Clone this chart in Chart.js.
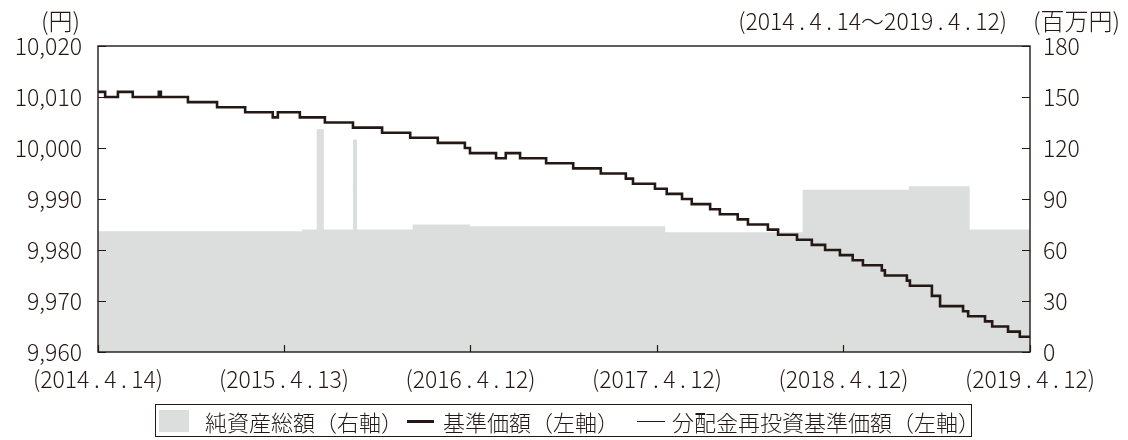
<!DOCTYPE html>
<html><head><meta charset="utf-8">
<script src="https://cdn.jsdelivr.net/npm/chart.js@4.4.1/dist/chart.umd.min.js"></script>
<style>
html,body{margin:0;padding:0;background:#fff;}
#wrap{position:relative;width:1128px;height:440px;font-family:"Noto Sans CJK JP","Noto Sans",sans-serif;font-weight:300;color:#231815;overflow:hidden;}
canvas{position:absolute;left:0;top:0;}
.t{position:absolute;font-size:24px;line-height:26px;white-space:nowrap;}
.p{display:inline-block;margin:0 4.5px;}
.xl{position:absolute;top:365px;font-size:23px;line-height:26px;white-space:nowrap;transform:translateX(-50%);}
#legend{position:absolute;left:155px;top:404px;width:817px;height:33px;border:1px solid #231815;box-sizing:border-box;}
.li{position:absolute;top:3px;font-size:22px;line-height:26px;white-space:nowrap;}
.sw{position:absolute;}
</style></head>
<body>
<div id="wrap">
<canvas id="c" width="1128" height="440"></canvas>
<div class="t" style="right:1048px;top:7px;">(円)</div>
<div class="t" id="range" style="right:121px;top:7px;font-size:23px;"></div>
<div class="t" style="left:1033px;top:7px;">(百万円)</div>
<div id="xlabels"></div>
<div id="legend">
  <div class="sw" style="left:3px;top:5px;width:30px;height:22px;background:#dcdddd;"></div>
  <div class="li" style="left:49px;">純資産総額（右軸）</div>
  <div class="sw" style="left:251px;top:15px;width:27px;height:3px;background:#231815;"></div>
  <div class="li" style="left:287px;">基準価額（左軸）</div>
  <div class="sw" style="left:481px;top:16px;width:28px;height:1px;background:#231815;"></div>
  <div class="li" style="left:516px;">分配金再投資基準価額（左軸）</div>
</div>
</div>
<script>
const startDate = '2014-04-14';
const endDate = '2019-04-12';
const periodText = '(2014.4.14～2019.4.12)';
const xTickDates = ['2014-04-14','2015-04-13','2016-04-12','2017-04-12','2018-04-12','2019-04-12'];
const xTickLabels = ['(2014.4.14)','(2015.4.13)','(2016.4.12)','(2017.4.12)','(2018.4.12)','(2019.4.12)'];
const leftTicks = [9960, 9970, 9980, 9990, 10000, 10010, 10020];
const rightTicks = [0, 30, 60, 90, 120, 150, 180];

// 基準価額 (step changes: date from which the value holds)
const priceDates = ['2014-04-14','2014-04-28','2014-05-23','2014-06-21','2014-08-11','2014-08-15','2014-10-07','2014-12-03',
 '2015-01-27','2015-03-22','2015-04-01','2015-05-14','2015-07-02','2015-08-26','2015-10-22','2015-12-16',
 '2016-02-08','2016-04-01','2016-04-11','2016-06-01','2016-06-20','2016-07-18','2016-09-07','2016-10-30','2016-12-23',
 '2017-02-10','2017-02-24','2017-04-08','2017-05-01','2017-05-31','2017-06-19','2017-07-25','2017-08-13','2017-09-17','2017-10-07','2017-11-15','2017-12-05',
 '2018-01-11','2018-02-09','2018-03-07','2018-04-05','2018-04-30','2018-05-20','2018-06-26','2018-07-02','2018-08-14','2018-08-20','2018-10-02','2018-10-18','2018-12-02','2018-12-12',
 '2019-01-14','2019-01-28','2019-02-28','2019-03-23'];
const priceValues = [10011,10010,10011,10010,10011,10010,10009,10008,
 10007,10006,10007,10006,10005,10004,10003,10002,
 10001,10000,9999,9998,9999,9998,9997,9996,9995,
 9994,9993,9992,9991,9990,9989,9988,9987,9986,9985,9984,9983,
 9982,9981,9980,9979,9978,9977,9976,9975,9974,9973,9971,9969,9968,9967,
 9966,9965,9964,9963];
// 分配金再投資基準価額 (no distributions: same as 基準価額)
const reinvestValues = priceValues.slice();

// 純資産総額 (百万円)
const navDates = ['2014-04-14','2015-05-18','2015-06-16','2015-06-30','2015-08-26','2015-09-03','2015-12-21','2016-04-11','2017-04-28','2018-01-22','2018-08-18','2018-12-15'];
const navValues = [71, 72, 131, 72, 125, 72, 75, 74, 70.5, 95.5, 97.5, 72];

const DAY = 86400000;
const dayOf = d => (Date.parse(d) - Date.parse(startDate)) / DAY;
function stepPoints(dates, values){
  const pts = [];
  dates.forEach((d,i)=>{
    const x = dayOf(d);
    if (i>0) pts.push({x, y: values[i-1]});
    pts.push({x, y: values[i]});
  });
  pts.push({x: dayOf(endDate), y: values[values.length-1]});
  return pts;
}
// render text into an element, widening the periods like the original typeface
function setSpaced(el, text){
  el.textContent = '';
  text.split('.').forEach((part, i)=>{
    if (i>0){ const s=document.createElement('span'); s.className='p'; s.textContent='.'; el.appendChild(s); }
    el.appendChild(document.createTextNode(part));
  });
}
setSpaced(document.getElementById('range'), periodText);

const INK = '#231815';
const FONT = {family:"'Noto Sans CJK JP', 'Noto Sans', sans-serif", size:23, weight:'300'};

const framePlugin = {
  id:'frame',
  afterDatasetsDraw(chart){
    const {ctx, chartArea:a, scales} = chart;
    ctx.save();
    ctx.strokeStyle = INK;
    ctx.lineWidth = 1.2;
    ctx.beginPath();
    scales.y.ticks.forEach(t=>{const p=Math.round(scales.y.getPixelForValue(t.value))+0.5; ctx.moveTo(a.left,p); ctx.lineTo(a.left+8,p);});
    scales.y2.ticks.forEach(t=>{const p=Math.round(scales.y2.getPixelForValue(t.value))+0.5; ctx.moveTo(a.right,p); ctx.lineTo(a.right-8,p);});
    scales.x.ticks.forEach(t=>{const p=Math.round(scales.x.getPixelForValue(t.value))+0.5; ctx.moveTo(p,a.bottom); ctx.lineTo(p,a.bottom-7);});
    ctx.stroke();
    ctx.lineWidth = 1.4;
    ctx.strokeRect(a.left, a.top, a.right-a.left, a.bottom-a.top);
    ctx.restore();
  }
};
// x tick labels as HTML, placed with the library's x scale
const xLabelPlugin = {
  id:'xlabels',
  afterDraw(chart){
    const box = document.getElementById('xlabels');
    box.innerHTML = '';
    const sx = chart.scales.x;
    sx.ticks.forEach((t,i)=>{
      const d = document.createElement('div');
      d.className = 'xl';
      d.style.left = sx.getPixelForValue(t.value) + 'px';
      setSpaced(d, xTickLabels[i]);
      box.appendChild(d);
    });
  }
};

new Chart(document.getElementById('c'), {
  type:'line',
  data:{
    datasets:[
      {label:'基準価額（左軸）', data: stepPoints(priceDates, priceValues), yAxisID:'y', borderColor:INK, borderWidth:2.6, pointRadius:0, fill:false, order:1},
      {label:'分配金再投資基準価額（左軸）', data: stepPoints(priceDates, reinvestValues), yAxisID:'y', borderColor:INK, borderWidth:1, pointRadius:0, fill:false, order:2},
      {label:'純資産総額（右軸）', data: stepPoints(navDates, navValues), yAxisID:'y2', borderWidth:0, borderColor:'rgba(0,0,0,0)', backgroundColor:'#dcdddd', pointRadius:0, fill:'origin', order:3}
    ]
  },
  options:{
    responsive:false, maintainAspectRatio:false, animation:false,
    layout:{padding:{top:46,left:0,right:0,bottom:0}},
    plugins:{legend:{display:false}, tooltip:{enabled:false}},
    scales:{
      x:{type:'linear', min:0, max:dayOf(endDate),
        grid:{display:false}, border:{display:false},
        afterBuildTicks: s => { s.ticks = xTickDates.map(d=>({value:dayOf(d)})); },
        ticks:{display:false, autoSkip:false, maxRotation:0, minRotation:0},
        afterFit: s => { s.height = 88; }
      },
      y:{type:'linear', position:'left', min:leftTicks[0], max:leftTicks[leftTicks.length-1],
        grid:{display:false, drawTicks:false}, border:{display:false},
        afterBuildTicks: s => { s.ticks = leftTicks.map(v=>({value:v})); },
        ticks:{padding:16, color:INK, font:FONT, callback:v=>v.toLocaleString('en-US')},
        afterFit: s => { s.width = 98; }
      },
      y2:{type:'linear', position:'right', min:rightTicks[0], max:rightTicks[rightTicks.length-1],
        grid:{display:false, drawTicks:false}, border:{display:false},
        afterBuildTicks: s => { s.ticks = rightTicks.map(v=>({value:v})); },
        ticks:{padding:13, color:INK, font:FONT, callback:v=>String(v)},
        afterFit: s => { s.width = 98; }
      }
    }
  },
  plugins:[framePlugin, xLabelPlugin]
});
</script>
</body></html>
